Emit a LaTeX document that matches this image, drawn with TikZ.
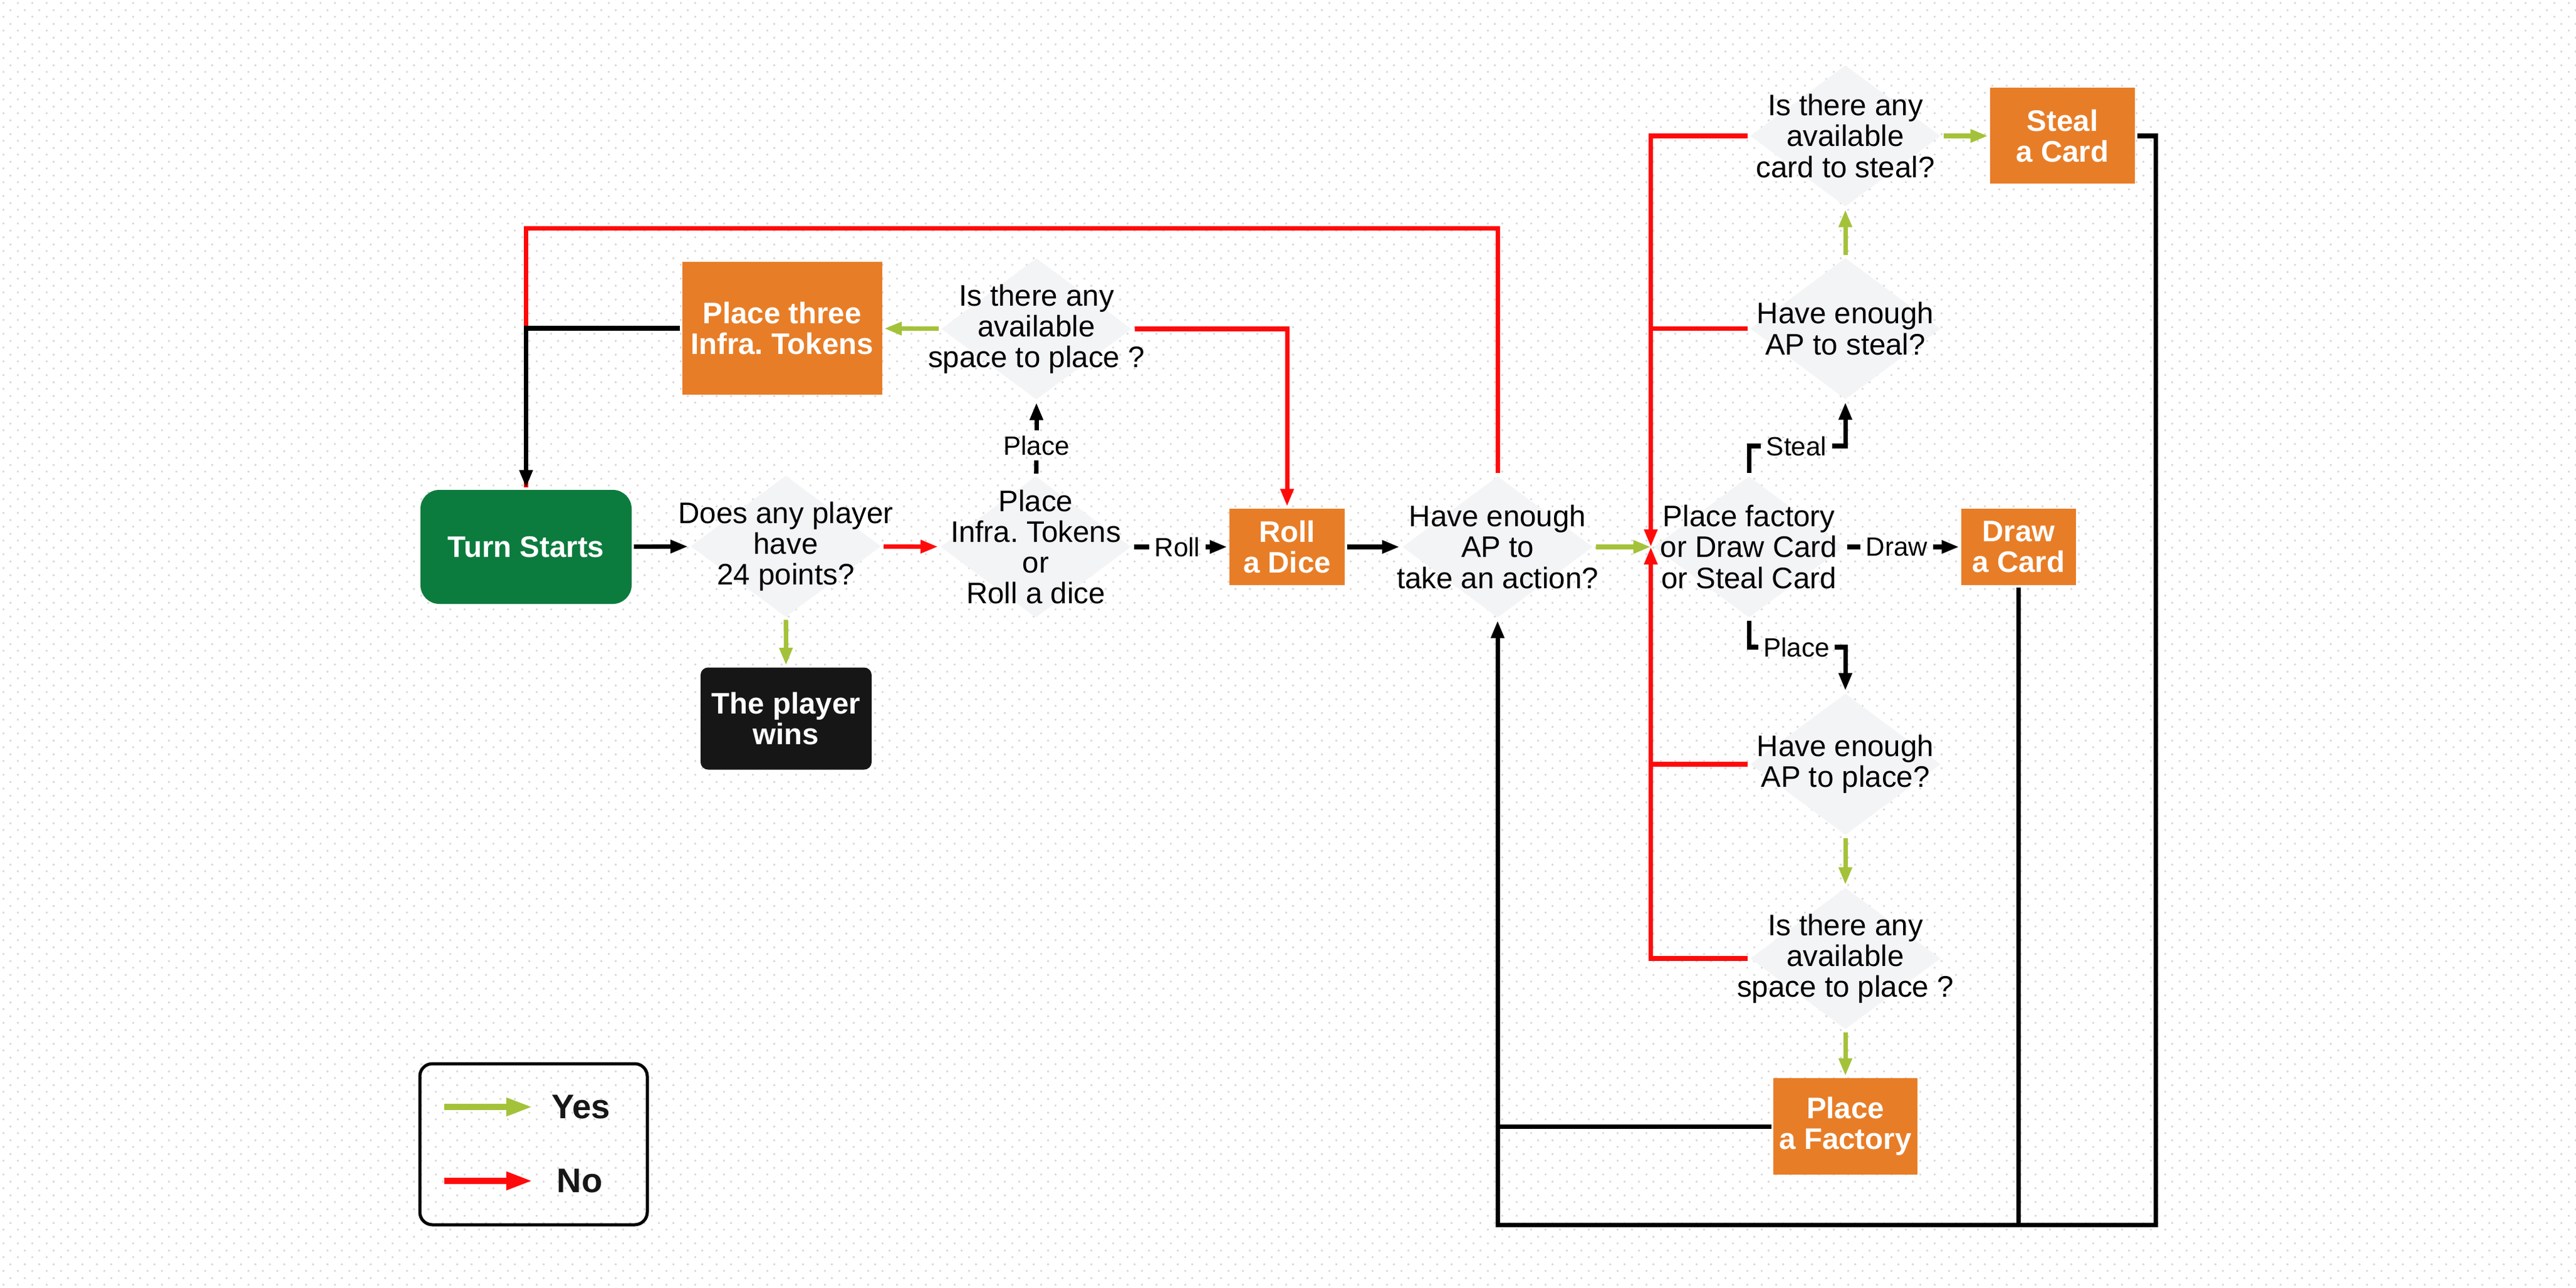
\documentclass[tikz,border=0pt]{standalone}
\usepackage{fontspec}
\setmainfont{Liberation Sans}
\usetikzlibrary{shapes.geometric,arrows.meta,patterns}

\definecolor{boxorange}{RGB}{232,125,39}
\definecolor{startgreen}{RGB}{11,123,62}
\definecolor{winblack}{RGB}{22,22,22}
\definecolor{diagrey}{RGB}{243,244,246}
\definecolor{yesgreen}{RGB}{164,194,57}
\definecolor{nored}{RGB}{255,10,10}
\definecolor{dotgrey}{RGB}{216,216,216}

\frenchspacing
\newcommand{\flowfont}{\fontsize{13.5}{14}\selectfont}
\newcommand{\tagfont}{\fontsize{12}{13}\selectfont}

\pgfdeclarepatternformonly{bgdots}{\pgfpoint{0cm}{0cm}}{\pgfpoint{0.2257cm}{0.22cm}}{\pgfpoint{0.2257cm}{0.22cm}}{%
  \pgfpathcircle{\pgfpoint{0.0564cm}{0.055cm}}{0.02cm}%
  \pgfpathcircle{\pgfpoint{0.1693cm}{0.165cm}}{0.02cm}%
  \pgfusepath{fill}}

\begin{document}
\begin{tikzpicture}[line width=2pt, font=\flowfont,
    box/.style={fill=boxorange,text=white,font=\flowfont\bfseries,align=center,inner sep=0pt},
    dia/.style={diamond,fill=diagrey,minimum width=3.06cm,minimum height=2.28cm,inner sep=0pt},
    dtext/.style={align=center,inner sep=0pt},
    tag/.style={font=\tagfont,inner sep=0.05cm},
    arr/.style={-{Triangle[length=0.28cm,width=0.2cm]}},
    yes/.style={draw=yesgreen,color=yesgreen},
    no/.style={draw=nored,color=nored}]

    % background
    \useasboundingbox (0,0) rectangle (41.11,-20.56);
    \fill[white] (0,0) rectangle (41.11,-20.56);
    \fill[pattern=bgdots,pattern color=dotgrey] (0,0) rectangle (41.11,-20.56);

    % boxes
    \node[box,fill=startgreen,rounded corners=0.3cm,minimum width=3.37cm,minimum height=1.82cm] (turn) at (8.395,-8.73) {Turn Starts};
    \node[box,fill=winblack,rounded corners=0.12cm,minimum width=2.73cm,minimum height=1.63cm] (wins) at (12.545,-11.47) {The player\\wins};
    \node[box,minimum width=3.19cm,minimum height=2.12cm] (three) at (12.48,-5.24) {Place three\\Infra. Tokens};
    \node[box,minimum width=1.84cm,minimum height=1.22cm] (roll) at (20.54,-8.73) {Roll\\a Dice};
    \node[box,minimum width=1.83cm,minimum height=1.22cm] (draw) at (32.215,-8.73) {Draw\\a Card};
    \node[box,minimum width=2.31cm,minimum height=1.53cm] (steal) at (32.915,-2.17) {Steal\\a Card};
    \node[box,minimum width=2.30cm,minimum height=1.54cm] (factory) at (29.45,-17.98) {Place\\a Factory};

    % decisions
    \node[dia] (q24) at (12.54,-8.72) {};
    \node[dia] (choose) at (16.53,-8.73) {};
    \node[dia] (space1) at (16.54,-5.25) {};
    \node[dia] (ap) at (23.90,-8.73) {};
    \node[dia] (act) at (27.91,-8.73) {};
    \node[dia] (canst) at (29.45,-2.17) {};
    \node[dia] (apsteal) at (29.45,-5.245) {};
    \node[dia] (applace) at (29.45,-12.2) {};
    \node[dia] (space2) at (29.45,-15.3) {};

    \node[dtext] (q24-t) at (q24) {Does any player\\have\\24 points?};
    \node[dtext] (choose-t) at (choose) {Place\\Infra. Tokens\\or\\Roll a dice};
    \node[dtext] (space1-t) at (space1) {Is there any\\available\\space to place ?};
    \node[dtext] (ap-t) at (ap) {Have enough\\AP to\\take an action?};
    \node[dtext] (act-t) at (act) {Place factory\\or Draw Card\\or Steal Card};
    \node[dtext] (canst-t) at (canst) {Is there any\\available\\card to steal?};
    \node[dtext] (apsteal-t) at (apsteal) {Have enough\\AP to steal?};
    \node[dtext] (applace-t) at (applace) {Have enough\\AP to place?};
    \node[dtext] (space2-t) at (space2) {Is there any\\available\\space to place ?};

    % branch labels
    \node[tag] (rolltag) at (18.79,-8.73) {Roll};
    \node[tag] (placetag) at (16.54,-7.11) {Place};
    \node[tag] (stealtag) at (28.67,-7.12) {Steal};
    \node[tag] (placetag2) at (28.67,-10.33) {Place};
    \node[tag] (drawtag) at (30.27,-8.73) {Draw};

    \coordinate (loop) at (8.395,-3.645);
    \coordinate (rc) at (34.40,-19.55);
    \coordinate (bc) at (23.90,-19.55);

    % left part
    \draw[no] (ap.north) |- (loop) -- (turn.north);
    \draw[arr] (three.west) -| (turn.north);
    \draw[arr] (turn) -- (q24);
    \draw[arr,no] (q24) -- (choose);
    \draw[arr,yes] (q24) -- (wins);
    \draw (choose) -- (rolltag);
    \draw[arr] (rolltag) -- (roll);
    \draw (choose) -- (placetag);
    \draw[arr] (placetag) -- (space1);
    \draw[arr,yes] (space1) -- (three);
    \draw[arr,no] (space1.east) -| (roll.north);
    \draw[arr] (roll) -- (ap);
    \draw[arr,yes] (ap) -- (act.west);

    % right part
    \draw[arr,no] (canst.west) -| (act.west);
    \draw[no] (apsteal.west) -- (apsteal.west -| act.west);
    \draw[no] (applace.west) -- (applace.west -| act.west);
    \draw[arr,no] (space2.west) -| (act.west);
    \draw (act.north) |- (stealtag.west);
    \draw[arr] (stealtag.east) -| (apsteal.south);
    \draw (act.south) |- (placetag2.west);
    \draw[arr] (placetag2.east) -| (applace.north);
    \draw (act) -- (drawtag);
    \draw[arr] (drawtag) -- (draw);
    \draw[arr,yes] (apsteal) -- (canst);
    \draw[arr,yes] (canst) -- (steal);
    \draw[arr,yes] (applace) -- (space2);
    \draw[arr,yes] (space2) -- (factory);

    % back to the AP check
    \draw[arr] (steal.east) -| (rc) -- (bc) -- (ap.south);
    \draw (draw.south) -- (draw.south |- bc);
    \draw (factory.west) -- (factory.west -| bc);

    % legend
    \node[draw=black,line width=0.05cm,rounded corners=0.2cm,minimum width=3.63cm,minimum height=2.57cm] (legend) at (8.515,-18.265) {};
    \coordinate (yes-a) at (7.09,-17.67);
    \coordinate (yes-b) at (8.50,-17.67);
    \coordinate (no-a) at (7.09,-18.85);
    \coordinate (no-b) at (8.50,-18.85);
    \draw[yes,line width=0.1cm,-{Triangle[length=0.42cm,width=0.27cm]}] (yes-a) -- (yes-b);
    \draw[no,line width=0.1cm,-{Triangle[length=0.42cm,width=0.27cm]}] (no-a) -- (no-b);
    \node[font=\fontsize{15.5}{18}\selectfont\bfseries,text=winblack] (yes-t) at (9.27,-17.67) {Yes};
    \node[font=\fontsize{15.5}{18}\selectfont\bfseries,text=winblack] (no-t) at (9.25,-18.85) {No};
\end{tikzpicture}
\end{document}
